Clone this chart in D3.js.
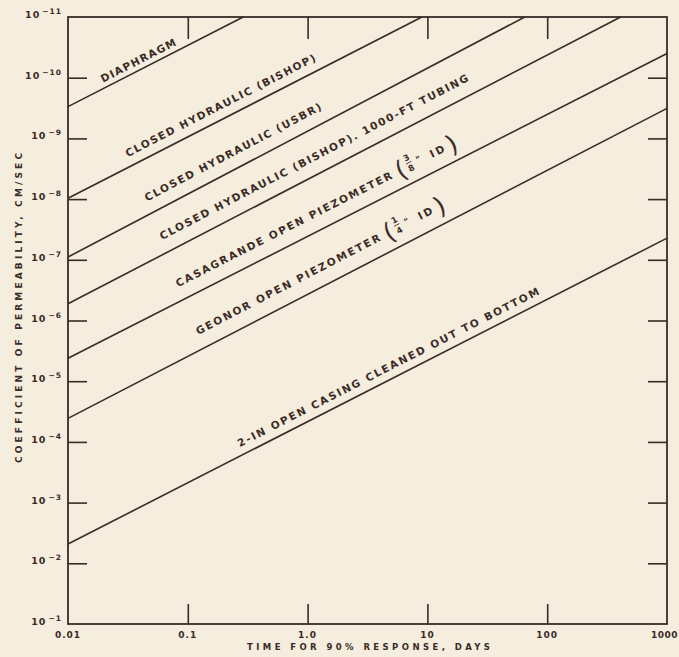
<!DOCTYPE html>
<html><head><meta charset="utf-8">
<script src="https://cdn.jsdelivr.net/npm/d3@7"></script>
<style>
html,body{margin:0;padding:0;background:#f5eddd;}
svg{display:block;}
text{font-family:"DejaVu Sans",sans-serif;fill:#3b2b27;}
</style></head><body>
<svg id="chart" width="679" height="657"></svg>
<script>
// ---- data ----
const lineNames = [
  "DIAPHRAGM",
  "CLOSED HYDRAULIC  (BISHOP)",
  "CLOSED HYDRAULIC  (USBR)",
  "CLOSED HYDRAULIC  (BISHOP). 1000-FT TUBING",
  "CASAGRANDE OPEN PIEZOMETER",
  "GEONOR OPEN PIEZOMETER",
  "2-IN  OPEN CASING CLEANED OUT TO BOTTOM"
];
const startTime = [0.01, 0.01, 0.01, 0.01, 0.01, 0.01, 0.01];        // days
const startK    = [3.0e-10, 9.7e-9, 9.0e-8, 5.3e-7, 4.2e-6, 4.1e-5, 4.8e-3]; // cm/sec
const endTime   = [0.29, 9.0, 65, 410, 1000, 1000, 1000];
const endK      = [1e-11, 1e-11, 1e-11, 1e-11, 4.0e-11, 3.2e-10, 4.4e-8];
const fractionNum = [null, null, null, null, "3", "1", null];
const fractionDen = [null, null, null, null, "8", "4", null];

const xTickValues = [0.01, 0.1, 1, 10, 100, 1000];
const xTickLabels = ["0.01", "0.1", "1.0", "10", "100", "1000"];
const yExponents  = [-11, -10, -9, -8, -7, -6, -5, -4, -3, -2, -1];

const xTitle = "TIME FOR 90% RESPONSE, DAYS";
const yTitle = "COEFFICIENT OF PERMEABILITY, CM/SEC";

// label layout (not data): start time of each label, vertical gap above line, text length
const labelStart = [0.0196, 0.0316, 0.0457, 0.0609, 0.083, 0.122, 0.272];
const labelGap   = [6, 10.5, 14, 15, 15, 16, 9];
const labelLen   = [83, 212, 198, 346, 241, 206, 337];

// ---- chart ----
const ink = "#3b2b27";
const svg = d3.select("#chart");
svg.append("rect").attr("width",679).attr("height",657).attr("fill","#f5eddd");

const x = d3.scaleLog().domain([0.01, 1000]).range([68, 667]);
const y = d3.scaleLog().domain([1e-11, 1e-1]).range([17, 624]);

// frame
svg.append("rect").attr("x",68).attr("y",17).attr("width",599).attr("height",607)
  .attr("fill","none").attr("stroke",ink).attr("stroke-width",1.8);

const innerY = yExponents.slice(1,-1).map(e=>Math.pow(10,e));
const innerX = xTickValues.slice(1,-1);

function styleAxis(g){
  g.select(".domain").remove();
  g.selectAll(".tick line").attr("stroke",ink).attr("stroke-width",1.6);
  g.selectAll(".tick text").remove();
}
svg.append("g").attr("transform","translate(68,0)")
  .call(d3.axisLeft(y).tickValues(innerY).tickSize(-19).tickFormat(""))
  .call(styleAxis);
svg.append("g").attr("transform","translate(667,0)")
  .call(d3.axisRight(y).tickValues(innerY).tickSize(-19).tickFormat(""))
  .call(styleAxis);
svg.append("g").attr("transform","translate(0,624)")
  .call(d3.axisBottom(x).tickValues(innerX).tickSize(-20).tickFormat(""))
  .call(styleAxis);
svg.append("g").attr("transform","translate(0,17)")
  .call(d3.axisTop(x).tickValues(innerX).tickSize(-22).tickFormat(""))
  .call(styleAxis);

// y tick labels
yExponents.forEach(e=>{
  const t = svg.append("text").attr("x",62).attr("y",y(Math.pow(10,e))+1)
    .attr("text-anchor","end").attr("font-size",9.5).attr("font-weight","bold")
    .attr("letter-spacing",1);
  t.append("tspan").text("10");
  t.append("tspan").attr("dy",-4).attr("dx",2).attr("font-size",7.5).text("\u2212"+(-e));
});

// x tick labels
xTickValues.forEach((v,i)=>{
  const last = i === xTickValues.length-1;
  svg.append("text").attr("x",last ? 678 : x(v)).attr("y",638)
    .attr("text-anchor",last ? "end" : "middle")
    .attr("font-size",9).attr("font-weight","bold").attr("letter-spacing",last ? 0.5 : 1)
    .text(xTickLabels[i]);
});

// axis titles
svg.append("text").attr("x",247).attr("y",650).attr("font-size",8.5).attr("font-weight","bold")
  .attr("textLength",243).attr("lengthAdjust","spacing").text(xTitle);
svg.append("text").attr("transform","translate(22,463) rotate(-90)")
  .attr("font-size",9).attr("font-weight","bold")
  .attr("textLength",310).attr("lengthAdjust","spacing").text(yTitle);

// lines
const lineGen = d3.line().x(d=>x(d[0])).y(d=>y(d[1]));
lineNames.forEach((name,i)=>{
  svg.append("path")
    .datum([[startTime[i],startK[i]],[endTime[i],endK[i]]])
    .attr("d",lineGen).attr("fill","none").attr("stroke",ink).attr("stroke-width",1.6);
});

// labels along lines
lineNames.forEach((name,i)=>{
  const x0=x(startTime[i]), y0=y(startK[i]), x1=x(endTime[i]), y1=y(endK[i]);
  const ang = Math.atan2(y1-y0, x1-x0)*180/Math.PI;
  const sx = x(labelStart[i]);
  const sy = y0 + (sx-x0)*(y1-y0)/(x1-x0) - labelGap[i];
  const g = svg.append("g").attr("transform",`translate(${sx},${sy}) rotate(${ang})`);
  const L = labelLen[i];
  g.append("text").attr("x",0).attr("y",0).attr("font-size",10.5).attr("font-weight","bold")
    .attr("textLength",L).attr("lengthAdjust","spacing").text(name);
  if (fractionNum[i]) {
    g.append("text").attr("x",L+6).attr("y",5).attr("font-size",25).text("(");
    g.append("text").attr("x",L+21).attr("y",-9).attr("font-size",8.5).attr("font-weight","bold")
      .attr("text-anchor","middle").text(fractionNum[i]);
    g.append("line").attr("x1",L+18).attr("x2",L+24).attr("y1",-6.5).attr("y2",-6.5)
      .attr("stroke",ink).attr("stroke-width",0.8);
    g.append("text").attr("x",L+21).attr("y",2.5).attr("font-size",8.5).attr("font-weight","bold")
      .attr("text-anchor","middle").text(fractionDen[i]);
    g.append("text").attr("x",L+29).attr("y",-2).attr("font-size",9).attr("font-weight","bold").text("\"");
    g.append("text").attr("x",L+44).attr("y",0).attr("font-size",10.5).attr("font-weight","bold")
      .attr("textLength",15).attr("lengthAdjust","spacing").text("ID");
    g.append("text").attr("x",L+63).attr("y",5).attr("font-size",25).text(")");
  }
});
</script>
</body></html>
